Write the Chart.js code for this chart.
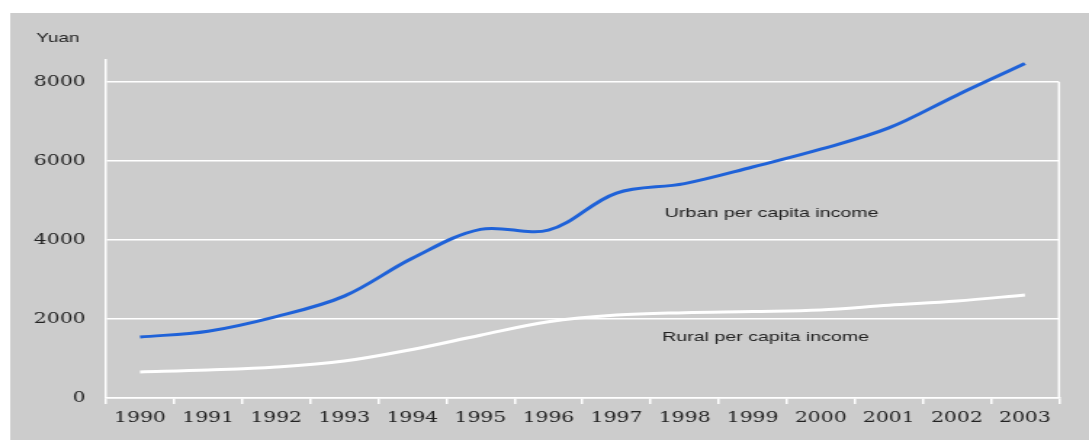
<!DOCTYPE html>
<html>
<head>
<meta charset="utf-8">
<script src="https://cdn.jsdelivr.net/npm/chart.js@4"></script>
<style>
  html, body { margin: 0; padding: 0; background: #fff; overflow: hidden; }
  #wrap { width: 750px; height: 440px; transform: scaleX(1.452); transform-origin: 0 0; }
</style>
</head>
<body>
<div id="wrap"><canvas id="myChart"></canvas></div>
<script>
var years = ["1990", "1991", "1992", "1993", "1994", "1995", "1996",
             "1997", "1998", "1999", "2000", "2001", "2002", "2003"];
var urbanIncome = [1545, 1690, 2060, 2580, 3540, 4270, 4250, 5190, 5430, 5850, 6300, 6840, 7670, 8470];
var ruralIncome = [660, 710, 785, 935, 1230, 1590, 1930, 2100, 2160, 2190, 2230, 2350, 2455, 2610];
var yTicks = [0, 2000, 4000, 6000, 8000];

// gray panel, right frame line and the text notes
var decor = {
  id: "decor",
  beforeDraw: function (chart) {
    var ctx = chart.ctx;
    ctx.save();
    ctx.fillStyle = "#cccccc";
    ctx.fillRect(7, 13, chart.width - 7, chart.height - 13);
    ctx.restore();
  },
  beforeDatasetsDraw: function (chart) {
    var ctx = chart.ctx, a = chart.chartArea, y = chart.scales.y;
    ctx.save();
    ctx.strokeStyle = "#ffffff";
    ctx.lineWidth = 1.5;
    ctx.beginPath();
    ctx.moveTo(a.right, y.getPixelForValue(yTicks[yTicks.length - 1]));
    ctx.lineTo(a.right, a.bottom);
    ctx.stroke();
    ctx.restore();
  },
  afterDraw: function (chart) {
    var ctx = chart.ctx, x = chart.scales.x, y = chart.scales.y;
    ctx.save();
    ctx.fillStyle = "#222";
    ctx.textBaseline = "middle";
    ctx.font = "13px 'Liberation Sans', Arial, sans-serif";
    ctx.fillText("Yuan", 25, 38);
    ctx.font = "13.5px 'Liberation Sans', Arial, sans-serif";
    ctx.fillText("Urban per capita income", x.getPixelForValue(7.71), y.getPixelForValue(4684));
    ctx.fillText("Rural per capita income", x.getPixelForValue(7.67), y.getPixelForValue(1544));
    ctx.restore();
  }
};

var tickFont = {family: "'DejaVu Serif', serif", size: 14};

new Chart("myChart", {
  type: "line",
  data: {
    labels: years,
    datasets: [{
      label: "Urban per capita income",
      data: urbanIncome,
      borderColor: "#1f62d8",
      borderWidth: 3,
      pointRadius: 0,
      tension: 0.35,
      fill: false
    }, {
      label: "Rural per capita income",
      data: ruralIncome,
      borderColor: "#ffffff",
      borderWidth: 3,
      pointRadius: 0,
      tension: 0.35,
      fill: false
    }]
  },
  options: {
    responsive: true,
    maintainAspectRatio: false,
    animation: false,
    layout: {padding: {top: 60, right: 20.7, bottom: 0, left: 0}},
    plugins: {
      legend: {display: false},
      tooltip: {enabled: false}
    },
    scales: {
      x: {
        offset: true,
        grid: {
          offset: true,
          drawOnChartArea: false,
          drawTicks: true,
          tickLength: 6,
          color: "#ffffff",
          lineWidth: 1.5
        },
        border: {display: true, color: "#ffffff", width: 1.5},
        ticks: {color: "#222", padding: 6, maxRotation: 0, font: tickFont},
        afterFit: function (s) { s.height = 42; }
      },
      y: {
        min: 0,
        max: 8560,
        afterBuildTicks: function (s) {
          s.ticks = yTicks.map(function (v) { return {value: v}; });
        },
        grid: {color: "#ffffff", lineWidth: 1.5, drawTicks: false},
        border: {display: true, color: "#ffffff", width: 1.5},
        ticks: {
          color: "#222",
          padding: 14,
          font: tickFont,
          callback: function (v) { return String(v); }
        },
        afterFit: function (s) { s.width = 73; }
      }
    }
  },
  plugins: [decor]
});
</script>
</body>
</html>
